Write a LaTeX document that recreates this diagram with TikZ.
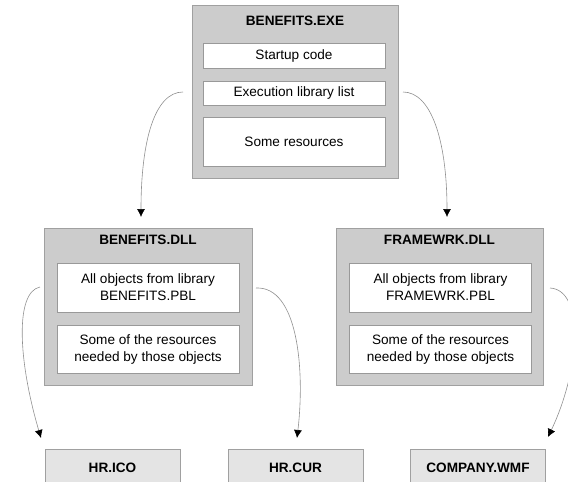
\documentclass[tikz,border=0pt]{standalone}
\usepackage{fontspec}
\setmainfont{Liberation Sans}
\usetikzlibrary{arrows.meta}
\definecolor{outerfill}{HTML}{CCCCCC}
\definecolor{outerline}{HTML}{A0A0A0}
\definecolor{filefill}{HTML}{E4E4E4}
\definecolor{innerline}{HTML}{999999}
\definecolor{curve}{HTML}{909090}
\begin{document}
\begin{tikzpicture}[x=1pt,y=-1pt,
  every node/.style={inner sep=0pt, font=\fontsize{13.6}{17}\selectfont},
  outerbox/.style={draw=outerline, fill=outerfill, line width=0.8pt, minimum width=#1},
  innerbox/.style={draw=innerline, fill=white, line width=0.8pt, minimum width=182pt, align=center},
  filebox/.style={draw=outerline, fill=filefill, line width=0.8pt, minimum width=135pt, minimum height=38pt, font=\fontsize{13.6}{17}\selectfont\bfseries},
  titletext/.style={font=\fontsize{13.6}{17}\selectfont\bfseries},
  link/.style={draw=curve, line width=0.6pt, -{Latex[length=8pt,width=8pt,color=black]}}
]
\useasboundingbox (0,0) rectangle (568,482);

% top executable
\node[outerbox=206pt, minimum height=173pt] (exe) at (295,91.5) {};
\node[titletext] (exet) at (295,21) {BENEFITS.EXE};
\node[innerbox, minimum height=25pt] (start) at (294,55.5) {Startup code};
\node[innerbox, minimum height=24pt] (exec) at (294,93) {Execution library list};
\node[innerbox, minimum height=49pt] (res) at (294,141.5) {Some resources};

% BENEFITS.DLL
\node[outerbox=208pt, minimum height=157pt] (bdll) at (148,306.5) {};
\node[titletext] (bdllt) at (148,240) {BENEFITS.DLL};
\node[innerbox, minimum height=49pt] (bobj) at (148,287.5) {All objects from library\\BENEFITS.PBL};
\node[innerbox, minimum height=48pt] (bres) at (148,349) {Some of the resources\\needed by those objects};

% FRAMEWRK.DLL
\node[outerbox=207pt, minimum height=157pt] (fdll) at (439.5,306.5) {};
\node[titletext] (fdllt) at (439.5,240) {FRAMEWRK.DLL};
\node[innerbox, minimum height=49pt] (fobj) at (440.5,287.5) {All objects from library\\FRAMEWRK.PBL};
\node[innerbox, minimum height=48pt] (fres) at (440.5,349) {Some of the resources\\needed by those objects};

% resource files
\node[filebox] (ico) at (112.5,468) {HR.ICO};
\node[filebox] (cur) at (295.5,468) {HR.CUR};
\node[filebox] (wmf) at (478,468) {COMPANY.WMF};

% connector end points
\coordinate (c1s) at (183,92);
\coordinate (c1e) at (141,217);
\coordinate (c2s) at (403,92);
\coordinate (c2e) at (447,217);
\coordinate (c3s) at (40,287);
\coordinate (c3e) at (41,438);
\coordinate (c4s) at (256,288);
\coordinate (c4e) at (297,438);
\coordinate (c5s) at (550,288);
\coordinate (c5e) at (548,437);

\draw[link] (c1s) .. controls (155,92) and (141,140) .. (c1e);
\draw[link] (c2s) .. controls (431,92) and (447,140) .. (c2e);
\draw[link] (c3s) .. controls (15,292) and (18,360) .. (c3e);
\draw[link] (c4s) .. controls (298,286) and (305,370) .. (c4e);
\draw[link] (c5s) .. controls (585,290) and (580,370) .. (c5e);
\end{tikzpicture}
\end{document}
